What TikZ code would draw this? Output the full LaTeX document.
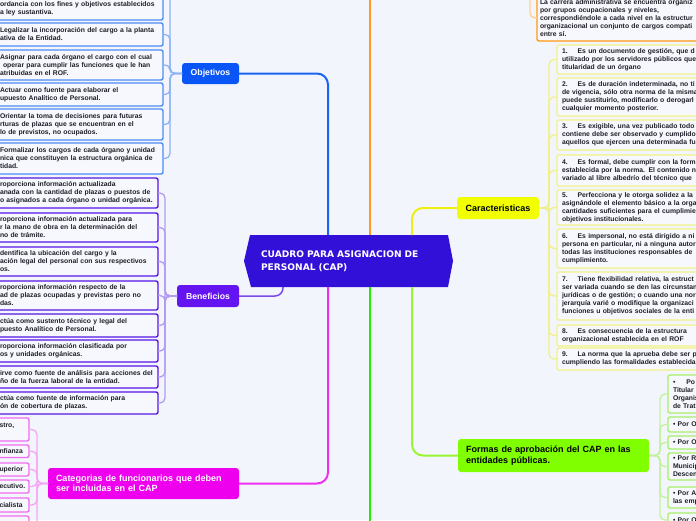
\documentclass[tikz,border=0pt]{standalone}
\usepackage{fontspec}
\setmainfont{Liberation Sans}
\newfontfamily\dvs{DejaVu Sans}
\usetikzlibrary{calc}
\definecolor{bg}{HTML}{F3F5FD}
\definecolor{boxfill}{HTML}{F7F8FE}
\definecolor{txt}{HTML}{1E1E28}
\definecolor{capc}{HTML}{3210D8}
\definecolor{objc}{HTML}{0A55F5}
\definecolor{objline}{HTML}{1A64F0}
\definecolor{objb}{HTML}{4D8BF5}
\definecolor{objbr}{HTML}{8CB3F5}
\definecolor{benc}{HTML}{6414F0}
\definecolor{benb}{HTML}{5516E6}
\definecolor{benbr}{HTML}{B29CF2}
\definecolor{benline}{HTML}{7A4AE8}
\definecolor{catc}{HTML}{EE00EE}
\definecolor{catline}{HTML}{EE30EE}
\definecolor{catb}{HTML}{F06CF0}
\definecolor{catbr}{HTML}{F5A5F5}
\definecolor{carc}{HTML}{F2FF00}
\definecolor{carline}{HTML}{EEEE10}
\definecolor{carb}{HTML}{F2F285}
\definecolor{carbr}{HTML}{F0F088}
\definecolor{forc}{HTML}{80FF00}
\definecolor{forline}{HTML}{99F530}
\definecolor{forb}{HTML}{A8F06A}
\definecolor{forbr}{HTML}{C2F29A}
\definecolor{orline}{HTML}{FF9A20}
\definecolor{orb}{HTML}{FF9A10}
\definecolor{orbr}{HTML}{FFCF90}
\definecolor{grline}{HTML}{22EE00}
\tikzset{
  every node/.style={inner sep=0pt, outer sep=0pt},
  boxtxt/.style={font=\bfseries\fontsize{6.8pt}{8pt}\selectfont, text=txt},
  kid/.style={boxtxt, draw, line width=1.4pt, rounded corners=2pt, fill=boxfill, inner ysep=0pt, align=left, anchor=north west},
  okid/.style={kid, draw=objb, inner xsep=4pt, text width=159pt},
  bkid/.style={kid, draw=benb, inner xsep=4pt, text width=154pt},
  ckid/.style={kid, draw=catb, inner xsep=3.5pt, text width=26pt},
  kkid/.style={kid, draw=carb, inner xsep=5pt, text width=240pt},
  fkid/.style={kid, draw=forb, inner xsep=5pt, text width=100pt},
  orkid/.style={kid, draw=orb, inner xsep=3pt, text width=240pt},
  topic/.style={font=\bfseries\fontsize{9pt}{10.5pt}\selectfont, rounded corners=3pt},
  branch/.style={line width=2pt, rounded corners=11pt},
  twig/.style={line width=1.3pt, rounded corners=5pt},
}
\begin{document}
\begin{tikzpicture}[x=1pt,y=-1pt]
\useasboundingbox (0,0) rectangle (696,520);
\clip (0,0) rectangle (696,520);
\fill[bg] (0,0) rectangle (696,520);

% central node
\fill[capc] (250,235) -- (448,235) -- (453,261) -- (448,287) -- (251,287) -- (244,261) -- cycle;
\node[font=\dvs\bfseries\fontsize{9.1pt}{12.5pt}\selectfont, text=white, align=left,
      minimum width=198pt, minimum height=52pt, inner xsep=11pt, text width=176pt] (cap) at (349,261)
      {CUADRO PARA ASIGNACION DE\\PERSONAL (CAP)};

% topic nodes
\node[topic, fill=objc, text=white, minimum width=57pt, minimum height=21pt, font=\bfseries\fontsize{8.7pt}{10pt}\selectfont] (obj) at (210.5,73.5) {Objetivos};
\node[topic, fill=benc, text=white, minimum width=62pt, minimum height=22pt, font=\bfseries\fontsize{8.7pt}{10pt}\selectfont] (ben) at (208,296) {Beneficios};
\node[topic, fill=carc, text=black, minimum width=82pt, minimum height=22pt] (car) at (498,208) {Caracteristicas};
\node[topic, fill=catc, text=white, anchor=north west, minimum height=31pt, inner xsep=8pt, text width=175pt, align=left] (cat) at (48,468) {Categorias de funcionarios que deben\\ser incluidas en el CAP};
\node[topic, fill=forc, text=black, anchor=north west, minimum height=33pt, inner xsep=8pt, text width=175pt, align=left] (for) at (458,439) {Formas de aprobación del CAP en las\\entidades públicas.};

% main branches
\coordinate (otop) at (370,-6);
\coordinate (gbot) at (370,526);
\draw[branch, draw=objline] ([xshift=-21pt]cap.north) |- (obj.east);
\draw[branch, draw=orline] ([xshift=21pt]cap.north) -- (otop);
\draw[branch, draw=carline] ([xshift=63pt]cap.north) |- (car.west);
\draw[branch, draw=catline] ([xshift=-21pt]cap.south) |- (cat.east);
\draw[branch, draw=grline] ([xshift=21pt]cap.south) -- (gbot);
\draw[branch, draw=forline] ([xshift=63pt]cap.south) |- (for.west);
\draw[line width=1.5pt, rounded corners=8pt, draw=benline] ([xshift=-66pt]cap.south) |- (ben.east);

% Objetivos children
\node[okid, minimum height=23pt] (o1) at (-4,-3) {ordancia con los fines y objetivos establecidos\\a ley sustantiva.};
\node[okid, minimum height=23pt] (o2) at (-4,23) {Legalizar la incorporación del cargo a la planta\\ativa de la Entidad.};
\node[okid, minimum height=30pt] (o3) at (-4,50) {Asignar para cada órgano el cargo con el cual\\\hspace{3pt}operar para cumplir las funciones que le han\\atribuidas en el ROF.};
\node[okid, minimum height=23pt] (o4) at (-4,83) {Actuar como fuente para elaborar el\\upuesto Analítico de Personal.};
\node[okid, minimum height=31pt] (o5) at (-4,109) {Orientar la toma de decisiones para futuras\\rturas de plazas que se encuentran en el\\lo de previstos, no ocupados.};
\node[okid, minimum height=31pt] (o6) at (-4,143) {Formalizar los cargos de cada órgano y unidad\\nica que constituyen la estructura orgánica de\\tidad.};
\coordinate (oj) at ([xshift=-12pt]obj.west);
\draw[twig, draw=objbr] (obj.west) -- (oj) |- ([yshift=14pt]o1.east);
\foreach \n in {o2,o3,o4,o5,o6} \draw[twig, draw=objbr] (obj.west) -- (oj) |- (\n.east);

% Beneficios children
\node[bkid, minimum height=30pt] (b1) at (-4,178) {roporciona información actualizada\\anada con la cantidad de plazas o puestos de\\o asignados a cada órgano o unidad orgánica.};
\node[bkid, minimum height=29pt] (b2) at (-4,213) {roporciona información actualizada para\\r la mano de obra en la determinación del\\no de trámite.};
\node[bkid, minimum height=29pt] (b3) at (-4,247) {dentifica la ubicación del cargo y la\\ación legal del personal con sus respectivos\\os.};
\node[bkid, minimum height=29pt] (b4) at (-4,281) {roporciona información respecto de la\\ad de plazas ocupadas y previstas pero no\\das.};
\node[bkid, minimum height=23pt] (b5) at (-4,314) {ctúa como sustento técnico y legal del\\puesto Analítico de Personal.};
\node[bkid, minimum height=22pt] (b6) at (-4,340) {roporciona información clasificada por\\os y unidades orgánicas.};
\node[bkid, minimum height=22pt] (b7) at (-4,366) {irve como fuente de análisis para acciones del\\ño de la fuerza laboral de la entidad.};
\node[bkid, minimum height=22pt] (b8) at (-4,392) {ctúa como fuente de información para\\ón de cobertura de plazas.};
\coordinate (bj) at ([xshift=-12pt]ben.west);
\foreach \n in {b1,b2,b3,b4,b5,b6,b7,b8} \draw[twig, draw=benbr] (ben.west) -- (bj) |- (\n.east);

% Categorias children
\node[ckid, minimum height=23pt] (c1) at (-4,418) {stro,\\\mbox{}};
\node[ckid, minimum height=12.5pt] (c2) at (-4,445) {nfianza};
\node[ckid, minimum height=13pt] (c3) at (-4,463) {uperior};
\node[ckid, minimum height=13pt] (c4) at (-4,480) {ecutivo.};
\node[ckid, minimum height=14pt] (c5) at (-4,498) {cialista};
\node[ckid, minimum height=20pt] (c6) at (-4,516) {\mbox{}};
\coordinate (cj) at ([xshift=-11pt]cat.west);
\foreach \n in {c1,c2,c3,c4,c5,c6} \draw[twig, draw=catbr] (cat.west) -- (cj) |- (\n.east);

% orange child at top
\node[orkid, minimum height=46pt] (or) at (537,-5) {La carrera administrativa se encuentra organiz\\por grupos ocupacionales y niveles,\\correspondiéndole a cada nivel en la estructur\\organizacional un conjunto de cargos compati\\entre sí.};
\coordinate (orj) at (530,-12);
\draw[twig, draw=orbr] (orj) |- (or.west);

% Caracteristicas children
\node[kkid, minimum height=29pt] (k1) at (557,45) {1.\hspace{10pt}Es un documento de gestión, que d\\utilizado por los servidores públicos que\\titularidad de un órgano};
\node[kkid, minimum height=38pt] (k2) at (557,78) {2.\hspace{10pt}Es de duración indeterminada, no ti\\de vigencia, sólo otra norma de la misma\\puede sustituirlo, modificarlo o derogarl\\cualquier momento posterior.};
\node[kkid, minimum height=30pt] (k3) at (557,120) {3.\hspace{10pt}Es exigible, una vez publicado todo\\contiene debe ser observado y cumplido\\aquellos que ejercen una determinada fu};
\node[kkid, minimum height=31pt] (k4) at (557,155) {4.\hspace{10pt}Es formal, debe cumplir con la form\\establecida por la norma. El contenido n\\variado al libre albedrío del técnico que};
\node[kkid, minimum height=35pt] (k5) at (557,190) {5.\hspace{10pt}Perfecciona y le otorga solidez a la\\asignándole el elemento básico a la orga\\cantidades suficientes para el cumplimie\\objetivos institucionales.};
\node[kkid, minimum height=39pt] (k6) at (557,229) {6.\hspace{10pt}Es impersonal, no está dirigido a ni\\persona en particular, ni a ninguna autor\\todas las instituciones responsables de\\cumplimiento.};
\node[kkid, minimum height=48pt] (k7) at (557,272) {7.\hspace{10pt}Tiene flexibilidad relativa, la estruct\\ser variada cuando se den las circunstan\\jurídicas o de gestión; o cuando una nor\\jerarquía varié o modifique la organizaci\\funciones u objetivos sociales de la enti};
\node[kkid, minimum height=21pt] (k8) at (557,325) {8.\hspace{10pt}Es consecuencia de la estructura\\organizacional establecida en el ROF};
\node[kkid, minimum height=22pt] (k9) at (557,348) {9.\hspace{10pt}La norma que la aprueba debe ser p\\cumpliendo las formalidades establecida};
\coordinate (kj) at ([xshift=10pt]car.east);
\foreach \n in {k1,k2,k3,k4,k5,k6,k7,k8,k9} \draw[twig, draw=carbr] (car.east) -- (kj) |- (\n.west);

% Formas children
\node[fkid, minimum height=38pt] (f1) at (668,375) {•\hspace{11pt}Po\\Titular\\Organis\\de Trat};
\node[fkid, minimum height=15pt] (f2) at (668,417) {• Por O};
\node[fkid, minimum height=13pt] (f3) at (668,436) {• Por O};
\node[fkid, minimum height=27pt] (f4) at (668,453) {• Por R\\Municip\\Descen};
\node[fkid, minimum height=21pt] (f5) at (668,487) {• Por A\\las emp};
\node[fkid, minimum height=14pt] (f6) at (668,513) {• Por O};
\coordinate (fj) at ([xshift=11pt]for.east);
\foreach \n in {f1,f2,f3,f4,f5,f6} \draw[twig, draw=forbr] (for.east) -- (fj) |- (\n.west);
\end{tikzpicture}
\end{document}
